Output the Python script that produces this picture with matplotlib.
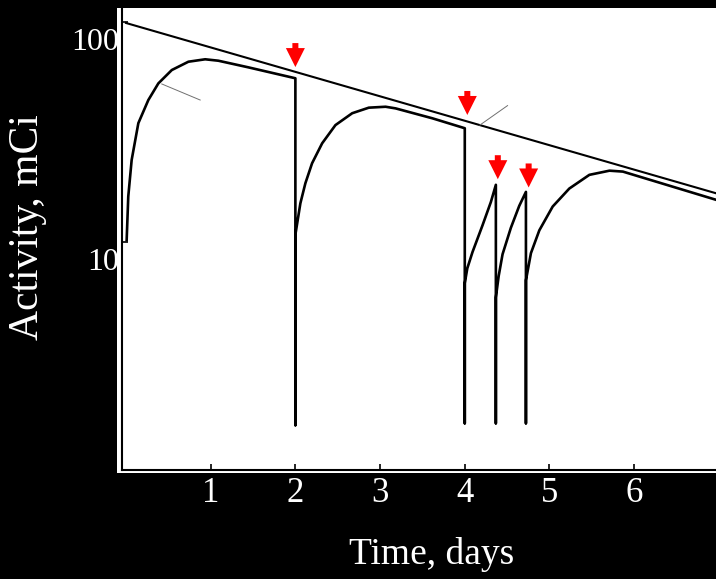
import matplotlib
matplotlib.use("Agg")
import matplotlib.pyplot as plt
from matplotlib.patches import Polygon, Rectangle
from matplotlib.transforms import ScaledTranslation

plt.rcParams['font.family'] = ['Liberation Serif', 'DejaVu Serif']

# parent (Mo-99) decay line, read at both ends
parent_t = [0.0, 6.98]
parent_a = [99.0, 16.6]

# daughter (Tc-99m) activity with elutions
daughter_t = [0.008, 0.027, 0.067, 0.146, 0.264, 0.382, 0.541, 0.737, 0.935, 1.09, 1.447, 2.0, 2.0,
              2.0, 2.059, 2.118, 2.197, 2.316, 2.473, 2.671, 2.867, 3.065, 3.183, 3.618, 4.0, 4.0,
              4.0, 4.03, 4.091, 4.209, 4.308, 4.367, 4.367,
              4.367, 4.40, 4.446, 4.544, 4.643, 4.722, 4.722,
              4.722, 4.781, 4.88, 5.038, 5.234, 5.471, 5.708, 5.866, 6.98]
daughter_a = [10.2, 16.1, 23.6, 34.7, 44.2, 52.6, 60.5, 66.0, 67.7, 66.7, 62.2, 55.5, 1.47,
              10.8, 15.0, 18.5, 22.8, 28.1, 34.0, 38.5, 40.8, 41.2, 40.5, 36.5, 32.9, 1.5,
              6.5, 7.6, 9.0, 11.9, 15.2, 18.2, 1.5,
              5.6, 7.0, 8.8, 11.6, 14.6, 16.9, 1.5,
              6.7, 8.9, 11.3, 14.5, 17.5, 20.2, 21.1, 20.9, 15.5]

# elution arrows (tip positions)
arrow_t = [2.0, 4.03, 4.39, 4.754]
arrow_a = [62.4, 37.8, 19.3, 17.7]

# thin leader lines left from the original figure
leaders = [([0.4225, 0.876], [52.3, 44.2]),
           ([4.178, 4.505], [34.0, 41.7])]

xticks = [1, 2, 3, 4, 5, 6]
yticks = [10, 100]

fig = plt.figure(figsize=(7.16, 5.79), dpi=100, facecolor='black')
# white paper behind the plot
fig.patches.append(Rectangle((117 / 716, 1 - 473 / 579), 1, (473 - 8) / 579,
                             transform=fig.transFigure, facecolor='white',
                             edgecolor='none', zorder=-1))
ax = fig.add_axes([122 / 716, 1 - 470 / 579, 594 / 716, 462 / 579])
ax.set_facecolor('white')

ax.plot(parent_t, parent_a, color='black', lw=1.5)
ax.plot(daughter_t, daughter_a, color='black', lw=1.9)
for lt, la in leaders:
    ax.plot(lt, la, color='#707070', lw=0.7)

ax.set_yscale('log')
ax.set_xlim(-0.047, 6.966)
ax.set_ylim(0.92, 115.8)

# red downward arrows, shape in pixels relative to the tip
shape = [(0, 0), (-9.5, 19), (-3, 19), (-3, 24), (3, 24), (3, 19), (9.5, 19)]
shape = [(x / 100, y / 100) for x, y in shape]
for t, a in zip(arrow_t, arrow_a):
    tr = fig.dpi_scale_trans + ScaledTranslation(t, a, ax.transData)
    ax.add_patch(Polygon(shape, closed=True, transform=tr, facecolor='#ff0000',
                         edgecolor='none', zorder=5))

ax.set_xticks(xticks)
ax.set_xticklabels([str(v) for v in xticks])
ax.set_yticks(yticks)
ax.set_yticklabels([str(v) for v in yticks])
ax.yaxis.set_minor_locator(matplotlib.ticker.NullLocator())
ax.tick_params(axis='both', direction='in', length=4, width=1.2, color='black',
               labelcolor='white')
ax.tick_params(axis='x', labelsize=25, pad=5)
ax.tick_params(axis='y', labelsize=23, pad=2)
for lab in ax.get_yticklabels():
    lab.set_transform(lab.get_transform() + ScaledTranslation(0, -0.17, fig.dpi_scale_trans))

for s in ['top', 'right']:
    ax.spines[s].set_visible(False)
ax.spines['left'].set_linewidth(1.5)
ax.spines['bottom'].set_linewidth(1.5)

ax.set_xlabel("Time, days", fontsize=27, color='white')
ax.xaxis.label.set_va('center')
ax.xaxis.set_label_coords((432 - 122) / 594, (470 - 555) / 462)
ax.set_ylabel("Activity, mCi", fontsize=30, color='white')
ax.yaxis.label.set_va('center')
ax.yaxis.set_label_coords((28 - 122) / 594, (470 - 227) / 462)

fig.savefig("out.png", dpi=100, facecolor='black')
